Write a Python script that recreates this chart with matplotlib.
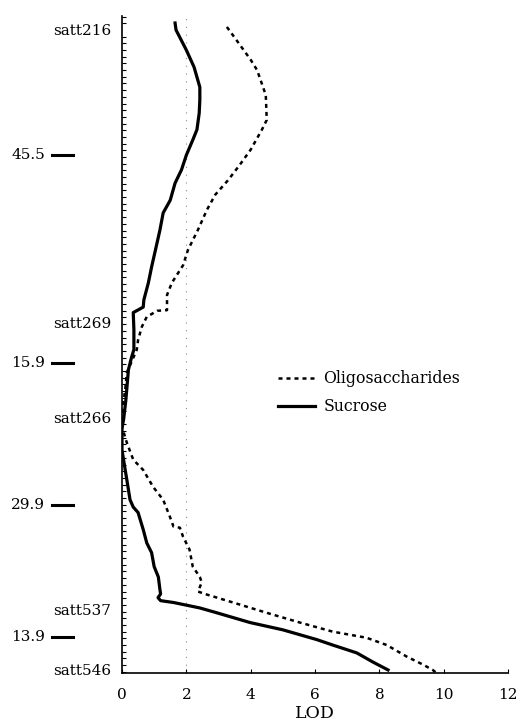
import matplotlib
matplotlib.use("Agg")
import matplotlib.pyplot as plt
import matplotlib.transforms as mtransforms
from matplotlib.ticker import MultipleLocator

# map position (cM from satt216, downwards)
markers = ["satt216", "satt269", "satt266", "satt537", "satt546"]
marker_pos = [0.0, 48.2, 63.8, 95.4, 105.2]
intervals = ["45.5", "15.9", "29.9", "13.9"]
interval_pos = [20.6, 54.8, 78.1, 99.8]

# LOD profiles
sucrose_pos = [-1.15, 0.0, 3.3, 6.1, 9.4, 11.5, 13.7, 16.4, 18.1, 20.6, 23.0, 25.2,
               28.0, 30.1, 32.9, 36.2, 39.0, 41.6, 44.4, 45.6, 46.5, 49.3, 52.6,
               53.8, 55.9, 60.9, 64.1, 65.5, 69.1, 72.4, 74.0, 77.3, 78.5, 79.4,
               82.2, 84.4, 86.0, 88.3, 90.0, 92.1, 92.8, 93.4, 93.9, 94.2, 95.1,
               95.9, 97.5, 98.7, 100.3, 101.2, 102.5, 104.0, 105.3]
sucrose_lod = [1.65, 1.68, 2.0, 2.24, 2.42, 2.42, 2.4, 2.33, 2.2, 2.0, 1.85, 1.65,
               1.5, 1.28, 1.18, 1.04, 0.92, 0.82, 0.68, 0.66, 0.35, 0.37, 0.37,
               0.3, 0.2, 0.12, 0.05, 0.0, 0.0, 0.1, 0.15, 0.25, 0.35, 0.5,
               0.66, 0.77, 0.92, 1.0, 1.13, 1.18, 1.2, 1.12, 1.2, 1.6, 2.42,
               2.95, 3.98, 5.0, 6.05, 6.55, 7.3, 7.8, 8.27]

oligo_pos = [-0.5, 1.6, 4.9, 6.6, 10.7, 14.8, 16.4, 19.7, 22.2, 24.7, 27.1, 29.6,
             32.9, 36.2, 38.7, 41.6, 43.6, 46.1, 46.2, 47.2, 48.8, 51.0, 52.6,
             56.4, 59.2, 61.3, 65.3, 67.9, 70.7, 72.4, 75.2, 77.3, 80.1, 81.7,
             81.9, 83.4, 85.5, 88.3, 90.0, 90.9, 92.4, 92.9, 94.2, 95.9, 97.5,
             99.0, 100.0, 101.2, 103.1, 104.4, 105.3, 105.8]
oligo_lod = [3.26, 3.55, 4.0, 4.2, 4.47, 4.5, 4.35, 4.0, 3.66, 3.3, 2.9, 2.64,
             2.36, 2.05, 1.9, 1.55, 1.4, 1.4, 1.1, 0.77, 0.62, 0.5, 0.46,
             0.15, 0.1, 0.04, 0.0, 0.15, 0.35, 0.66, 0.97, 1.28, 1.49, 1.6,
             1.8, 1.9, 2.1, 2.2, 2.42, 2.48, 2.36, 2.64, 3.45, 4.5, 5.53,
             6.55, 7.6, 8.23, 8.85, 9.35, 9.66, 9.78]

threshold = 2.0

plt.rcParams["font.family"] = "DejaVu Serif"
plt.rcParams["font.size"] = 11

fig = plt.figure(figsize=(5.22, 7.21), dpi=100)
ax = fig.add_axes([0.2337, 0.0666, 0.7395, 0.9112])

ax.axvline(threshold, color="0.55", lw=0.8, linestyle=(0, (1, 6)))
ax.plot(oligo_lod, oligo_pos, color="black", lw=1.8, linestyle=(0, (1.6, 1.6)),
        label="Oligosaccharides")
ax.plot(sucrose_lod, sucrose_pos, color="black", lw=2.3, label="Sucrose")

ax.set_xlim(0, 12)
ax.set_ylim(105.8, -2.3)
ax.set_xticks(range(0, 13, 2))
ax.set_xlabel("LOD", fontsize=12.5, labelpad=2)

ax.set_yticks(marker_pos)
ax.set_yticklabels(markers)
ax.yaxis.set_minor_locator(MultipleLocator(1.1))
ax.tick_params(axis="y", which="major", length=0, pad=8)
ax.tick_params(axis="y", which="minor", direction="in", length=3, width=0.8)
ax.tick_params(axis="x", which="major", direction="in", length=3, pad=11)

for s in ["top", "right"]:
    ax.spines[s].set_visible(False)
ax.spines["left"].set_linewidth(1.2)
ax.spines["bottom"].set_linewidth(1.2)

# interval distances with a short dash
trans = mtransforms.blended_transform_factory(ax.transAxes, ax.transData)
for lab, y in zip(intervals, interval_pos):
    ax.text(-0.199, y, lab, transform=trans, ha="right", va="center")
    ax.plot([-0.181, -0.127], [y, y], transform=trans, color="black", lw=2.2,
            clip_on=False)

ax.legend(loc="upper left", bbox_to_anchor=(0.389, 0.47), frameon=False,
          fontsize=11.3, handlelength=2.36, handletextpad=0.5, labelspacing=0.7,
          borderaxespad=0)

fig.savefig("out.png", dpi=100)
